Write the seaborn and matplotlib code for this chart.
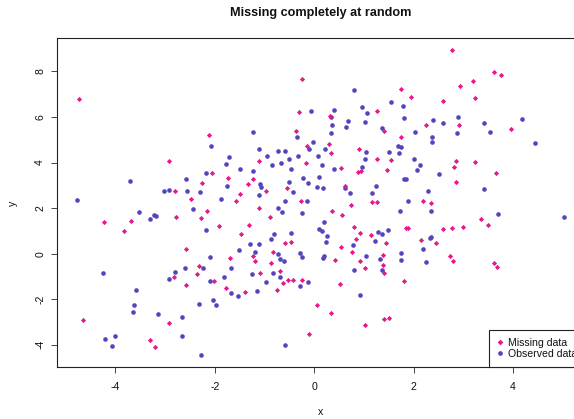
import matplotlib
matplotlib.use("Agg")
import matplotlib.pyplot as plt
from matplotlib.lines import Line2D
import pandas as pd
import seaborn as sns

# Points whose y value is missing (drawn in pink)
missing_x = [
    -4.74, -2.12, -2.92, -2.05, -2.26, -2.81, -2.47, -1.73, -0.24, 1.74,
    -0.31, 1.26, 0.32, -0.36, 1.40, 1.74, -0.15, 0.30, 0.33, 0.91,
    -1.11, -0.17, 1.26, 1.54, 0.53, 0.89, 0.95, 1.47, -1.23, -1.33,
    -0.97, -1.49, -0.54, 0.62, -1.58, -0.27, 0.73, 1.17, 1.26, -1.11,
    2.78, 3.61, 3.76, 3.19, 2.94, 1.95, 3.23, 2.59, 2.25, 2.91,
    3.96, 2.86, 3.23, 2.82, 3.66, 2.85, 2.18, 2.34, -4.23, -3.69,
    -3.83, -2.78, -2.16, -2.27, -1.92, -2.59, -1.70, -2.31, -2.35, -2.82,
    -2.02, -2.57, -1.78, -4.65, -2.92, -3.31, -3.20, -0.88, 0.35, 0.55,
    -1.31, -1.48, -0.58, -0.47, 0.80, 0.93, 1.15, 0.85, 1.44, 0.54,
    0.76, -0.82, -1.23, -1.20, -0.87, 0.42, 0.93, 1.38, 1.38, 1.02,
    1.40, -0.68, -1.09, -0.53, -0.42, -0.24, -0.63, -0.74, -1.39, 0.51,
    1.80, 0.06, 0.33, 1.03, 1.40, 1.50, -0.11, 1.85, 1.89, 2.60,
    2.78, 3.00, 3.36, 3.49, 2.14, 2.45, 2.74, 2.80, 3.62, 3.67,
]
missing_y = [
    6.78, 5.20, 4.07, 3.55, 3.08, 2.75, 2.40, 3.32, 7.66, 7.24,
    6.21, 6.26, 6.06, 5.37, 5.37, 5.13, 4.72, 4.81, 4.44, 4.61,
    4.08, 3.98, 4.14, 4.10, 3.77, 3.60, 3.64, 3.67, 3.28, 3.06,
    2.75, 2.62, 2.88, 2.98, 2.32, 2.33, 2.12, 2.26, 2.26, 1.99,
    8.93, 7.97, 7.84, 7.58, 7.34, 6.88, 6.84, 6.68, 5.66, 5.65,
    5.49, 4.06, 4.04, 3.82, 3.54, 3.15, 2.32, 2.23, 1.40, 1.43,
    1.01, 1.63, 1.86, 1.56, 1.20, 0.21, -0.18, -0.55, -0.91, -1.02,
    -1.20, -1.39, -1.50, -2.93, -3.03, -3.80, -4.09, 1.60, 1.89, 1.69,
    1.26, 0.88, 0.48, 0.53, 1.16, 0.91, 0.84, 0.63, 0.48, 0.28,
    0.05, 0.05, -0.10, -0.31, -0.41, -0.29, -0.32, -0.05, -0.51, -0.64,
    -0.84, -0.75, -0.86, -1.15, -1.14, -1.17, -1.27, -1.60, -1.68, -1.33,
    -1.18, -2.25, -2.60, -3.12, -2.88, -2.83, -3.52, 1.13, 1.13, 1.09,
    1.14, 1.16, 1.54, 1.25, 0.59, 0.47, -0.12, -0.32, -0.41, -0.57,
]

# Fully observed points (drawn in blue)
observed_x = [
    -2.08, -1.72, -1.77, -2.17, -2.59, -3.71, -1.75, -3.02, -2.93, -2.56,
    -2.29, -1.88, -4.78, 0.80, 1.55, 1.78, 0.96, 1.07, -0.07, 0.40,
    0.34, 1.80, 0.68, 1.02, 0.36, 0.64, 1.36, -1.23, 0.34, -0.35,
    -0.02, 1.68, 1.75, -0.10, 0.22, -1.11, -0.72, -0.58, 1.50, 1.05,
    1.71, -0.95, -0.33, 0.08, -0.50, -0.66, -0.85, 0.15, 1.03, -0.46,
    0.40, 0.96, -1.49, -1.23, 1.80, -0.22, 0.09, -0.51, -0.13, -1.09,
    -1.07, 0.05, 0.18, 1.24, 0.62, 0.71, -0.42, 1.17, -1.11, -0.58,
    -0.15, 2.39, 2.60, 2.90, 3.41, 4.18, 2.03, 2.37, 2.87, 3.54,
    2.36, 4.45, 2.01, 2.13, 2.06, 2.51, 1.85, 2.29, 3.42, 1.89,
    -3.52, -3.23, -3.19, -3.30, -2.43, -2.17, -2.10, -2.61, -2.24, -2.80,
    -2.93, -1.68, -2.09, -1.82, -1.68, -4.26, -3.59, -3.62, -3.65, -3.15,
    -2.66, -2.31, -2.03, -1.97, -4.21, -4.00, -4.07, -2.67, -2.27, -0.72,
    -0.64, -0.25, 1.73, 0.19, 0.10, 0.15, 0.26, 0.24, -0.46, -0.80,
    -0.87, -1.29, -1.12, -1.52, -1.20, -0.73, -0.29, -0.25, -0.69, -0.61,
    0.20, 0.18, 1.29, 1.36, 1.48, 1.23, 0.78, 1.04, 1.33, 1.75,
    1.75, 0.81, 1.36, -1.25, -0.82, -0.68, -0.98, -0.13, -0.29, -1.15,
    -1.53, 0.93, -0.58, 2.35, 3.69, 5.03, 2.33, 2.35, 2.19, 2.24,
]
observed_y = [
    4.72, 4.23, 3.93, 3.53, 3.29, 3.21, 2.99, 2.76, 2.78, 2.76,
    2.69, 2.42, 2.37, 7.17, 6.66, 6.47, 6.42, 6.16, 6.25, 6.32,
    5.99, 5.96, 5.82, 5.78, 5.66, 5.56, 5.50, 5.34, 5.30, 5.13,
    4.90, 4.74, 4.69, 4.59, 4.60, 4.61, 4.52, 4.52, 4.46, 4.46,
    4.41, 4.27, 4.29, 4.27, 4.14, 4.00, 3.88, 3.90, 4.14, 3.72,
    3.71, 3.81, 3.72, 3.61, 3.28, 3.32, 3.37, 3.14, 3.08, 3.06,
    2.93, 2.91, 2.89, 2.99, 2.88, 2.66, 2.72, 2.66, 2.58, 2.29,
    2.32, 5.86, 5.73, 5.99, 5.75, 5.90, 5.34, 5.13, 5.31, 5.33,
    4.89, 4.85, 4.17, 3.90, 3.67, 3.48, 3.28, 2.76, 2.85, 2.30,
    1.83, 1.71, 1.65, 1.52, 1.96, 1.04, -0.13, -0.61, -0.64, -0.81,
    -1.11, -0.62, -1.18, -1.02, -1.73, -0.85, -1.60, -2.24, -2.57, -2.63,
    -2.76, -2.20, -2.03, -2.27, -3.76, -3.63, -4.05, -3.60, -4.46, 2.00,
    1.84, 1.80, 1.89, 1.38, 1.07, 0.99, 0.78, 0.53, 0.90, 0.86,
    0.63, 0.44, 0.41, 0.15, 0.07, 0.00, 0.02, -0.16, -0.25, -0.33,
    -0.09, -0.19, 0.97, 0.87, 1.03, 0.54, 0.37, -0.10, -0.23, 0.02,
    -0.28, -0.71, -0.72, -0.88, -0.84, -1.01, -1.25, -1.23, -1.42, -1.64,
    -1.86, -1.80, -3.99, 1.87, 1.73, 1.63, 0.67, 0.72, 0.21, -0.38,
]

legend_labels = ["Missing data", "Observed data"]
x_ticks = [-4, -2, 0, 2, 4]
y_ticks = [-4, -2, 0, 2, 4, 6, 8]

PINK = "#E8178A"
BLUE = "#5444BE"

df = pd.DataFrame({
    "x": missing_x + observed_x,
    "y": missing_y + observed_y,
    "status": ["missing"] * len(missing_x) + ["observed"] * len(observed_x),
})

sns.set_theme(style="white")
plt.rcParams["font.family"] = ["Liberation Sans", "DejaVu Sans"]

fig = plt.figure(figsize=(5.74, 4.19), dpi=100)
# the plot region runs a little past the right edge of the canvas
ax = fig.add_axes([0.0998, 0.1234, 0.9169, 0.7866])

sns.scatterplot(data=df[df.status == "observed"], x="x", y="y", ax=ax,
                color=BLUE, marker="o", s=11, linewidth=0, legend=False)
sns.scatterplot(data=df[df.status == "missing"], x="x", y="y", ax=ax,
                color=PINK, marker="D", s=7, linewidth=0, legend=False)

ax.set_xlim(-5.17, 5.42)
ax.set_ylim(-4.99, 9.48)
ax.set_xticks(x_ticks)
ax.set_yticks(y_ticks)
ax.set_xticklabels([str(t) for t in x_ticks])
ax.set_yticklabels([str(t) for t in y_ticks])

for side in ax.spines.values():
    side.set_visible(True)
    side.set_color("#222222")
    side.set_linewidth(0.8)

ax.tick_params(axis="both", which="major", direction="out", length=4.2,
               width=0.7, color="#444444", labelsize=7.6, labelcolor="#111111",
               bottom=True, left=True)
ax.tick_params(axis="x", pad=6.5)
ax.tick_params(axis="y", pad=4.5, labelrotation=90)
for lab in ax.get_yticklabels():
    lab.set_va("center")

ax.set_xlabel("x", fontsize=7.6, color="#111111", va="center")
ax.set_ylabel("y", fontsize=7.6, color="#111111", va="center", rotation=90)
ax.xaxis.set_label_coords(0.501, -0.1356)
ax.yaxis.set_label_coords(-0.0836, 0.4985)

ax.set_title("Missing completely at random", fontsize=9.1, fontweight="bold",
             color="#111111", y=1.074, va="center", pad=0)

handles = [
    Line2D([], [], linestyle="none", marker="D", markersize=2.9,
           markerfacecolor=PINK, markeredgewidth=0),
    Line2D([], [], linestyle="none", marker="o", markersize=3.4,
           markerfacecolor=BLUE, markeredgewidth=0),
]
leg = ax.legend(handles, legend_labels, loc="lower left",
                bbox_to_anchor=(0.8208, 0.0), borderaxespad=0,
                fontsize=7.6, frameon=True, fancybox=False, framealpha=1,
                edgecolor="#222222", handlelength=0.44, handletextpad=0.56,
                borderpad=0.8, labelspacing=0.08)
leg.get_frame().set_linewidth(0.8)
for t in leg.get_texts():
    t.set_color("#111111")

fig.savefig("out.png", dpi=100)
